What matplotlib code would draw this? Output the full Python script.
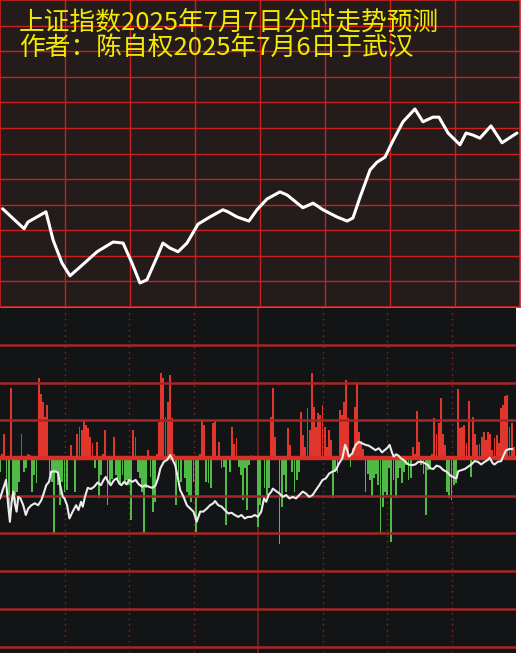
import matplotlib
matplotlib.use("Agg")
import matplotlib.pyplot as plt

plt.rcParams['font.family'] = ['Noto Sans CJK SC', 'DejaVu Sans']

# ---------------- data ----------------
title_line1 = "上证指数2025年7月7日分时走势预测"
title_line2 = "作者：陈自权2025年7月6日于武汉"

# forecast index curve (minute of session, index level)
price_minutes = [1.2, 11.1, 12.9, 21.2, 24.5, 28.6, 32.3, 36.9, 44.8, 52.2, 56.8, 60.9,
                 64.6, 67.8, 72.5, 75.2, 78.5, 82.2, 86.3, 91.4, 96.9, 102.9, 105.2,
                 109.4, 114.9, 118.6, 123.2, 129.2, 132.5, 139.8, 144.5, 149.1, 155.5,
                 160.2, 162.9, 166.2, 170.8, 174.0, 177.7, 180.9, 186.0, 191.5, 195.2,
                 199.8, 202.6, 206.8, 212.3, 215.1, 218.3, 221.5, 226.6, 231.7, 238.6]
price_values = [3459.2, 3455.3, 3456.6, 3458.6, 3453.1, 3448.6, 3446.1, 3447.8, 3450.8,
                3452.7, 3452.5, 3448.6, 3444.7, 3445.3, 3449.8, 3452.5, 3451.5, 3450.8,
                3452.5, 3456.2, 3457.6, 3459.0, 3458.6, 3457.6, 3456.8, 3459.0, 3461.1,
                3462.5, 3461.9, 3459.4, 3460.3, 3459.0, 3457.6, 3456.8, 3457.4, 3461.5,
                3466.8, 3468.3, 3469.3, 3472.1, 3476.2, 3478.7, 3476.2, 3477.1, 3477.1,
                3474.0, 3471.7, 3474.0, 3473.6, 3473.0, 3475.4, 3472.1, 3474.0]

# per-minute flow bars (one value per minute, 240 minutes)
flow_values = [
    -0.36, 0.10, 0.65, -0.80, -1.42, 1.87, -1.07, -1.25, -0.90, -0.63,
    0.65, -0.36, -0.27, 0.12, 0.08, -0.90, -0.45, -0.67, 2.13, 1.70,
    1.50, 1.10, 1.40, -0.45, -0.63, -2.00, -0.36, -0.72, -1.25, -0.63,
    -0.90, -0.85, 0.05, 0.35, 0.05, -0.90, 0.65, 0.83, 0.74, 1.00,
    0.88, 0.79, 0.57, 0.39, -0.27, 0.43, -1.07, -0.45, 0.10, 0.74,
    -1.25, -0.70, -0.55, 0.57, -0.45, -0.55, -0.72, -0.45, -0.63, -0.58,
    -0.72, -1.65, 0.74, 0.57, -0.36, -0.54, -0.90, -2.00, -0.80, 0.21,
    -0.50, -1.42, -1.16, 0.10, 0.96, 2.25, 2.12, 1.10, 1.50, 2.20,
    1.05, 0.10, -1.25, -0.45, -0.63, 0.05, -0.54, -0.90, -1.03, -1.16,
    -0.63, -1.96, -1.07, 0.12, 0.98, 0.88, -0.63, -0.67, -0.80, 0.92,
    0.98, 0.05, 0.43, -0.27, -0.23, -1.78, 0.05, -0.36, 0.83, 0.36,
    0.52, -0.23, -0.45, -1.11, -0.27, -1.38, -0.19, 0.08, 0.05, 0.05,
    -1.82, -1.25, 0.05, -0.80, -0.98, -0.80, 1.10, 1.87, 0.57, 0.05,
    -2.27, -1.29, -0.45, -0.90, 0.79, 0.35, -0.36, -0.90, -0.58, -0.36,
    1.23, 0.61, 0.30, 1.32, 0.74, 2.25, 1.36, 0.83, 1.19, 1.15,
    1.41, 0.83, 0.30, 0.74, 0.48, -1.05, -0.36, -0.40, 1.27, 1.14,
    1.48, 2.07, 1.05, -0.23, 0.26, 1.36, 2.03, 0.70, 0.45, 0.25,
    -0.90, -0.41, -0.58, -1.03, -0.54, -0.41, -0.72, -2.00, -1.29, -0.90,
    -0.98, -0.27, -2.22, -0.58, -1.07, -0.54, -0.27, -0.67, -0.36, -0.19,
    -0.58, -0.54, 0.30, 0.10, 1.25, 0.43, -0.19, -0.41, -1.50, -0.32,
    -0.23, 0.10, 1.05, 0.65, 0.92, 1.58, 0.65, 0.35, -0.90, -1.07,
    -1.11, -0.72, -0.67, 1.83, 0.79, 0.83, 0.88, 0.39, 1.51, -0.50,
    1.10, 0.65, 0.35, 0.36, 0.57, 0.70, 0.48, 0.70, 0.65, 0.21,
    0.52, 0.61, 0.39, 1.32, 1.41, 1.64, 1.67, 0.83, 0.92, 0.30,
]
flow_minutes = list(range(len(flow_values)))

# cumulative strength line in the lower panel
strength_minutes = [0, 1.5, 2.8, 3.8, 4.6, 5.4, 6.2, 6.9, 7.7, 8.5, 9.5, 10.8, 12, 13.1,
                    14.6, 16.2, 17.7, 19.2, 20.3, 21.5, 22.8, 23.8, 25.4, 26.9, 28, 29.2,
                    30, 31.2, 32.3, 33.8, 35.4, 36.5, 37.7, 38.5, 39.5, 40.8, 42.3, 43.8,
                    45.4, 46.9, 48.2, 49.2, 50.3, 51.5, 53.1, 54.3, 55.4, 56.5, 57.7, 58.9,
                    60, 61.5, 63.1, 64.6, 66.2, 67.7, 69.2, 70.8, 72.3, 73.5, 74.6, 76.2,
                    77.7, 79.2, 80.3, 81.5, 82.8, 83.8, 85.4, 86.9, 88.5, 90, 91.5, 93.1,
                    94.6, 96.2, 97.7, 99.2, 100, 101.5, 103.1, 104.6, 106.2, 107.7, 109.2,
                    110.8, 112.3, 113.8, 115.4, 116.9, 118.5, 120, 121.5, 122.8, 123.8,
                    124.9, 126.2, 126.9, 128.5, 130, 131.5, 133.1, 134.6, 136.2, 137.7,
                    139.2, 140.8, 142.3, 143.8, 145.4, 146.9, 148.5, 150, 151.5, 153.1,
                    154.6, 156.2, 157.7, 159.2, 160.5, 161.5, 162.3, 163.8, 165.4, 166.9,
                    168.5, 170, 171.5, 173.1, 174.6, 176.2, 177.7, 178.9, 180, 181.2,
                    182.3, 183.1, 184.3, 185.4, 186.5, 187.7, 188.9, 190, 191.5, 193.1,
                    194.6, 196.2, 197.7, 199.2, 200, 201.5, 203.1, 204.6, 206.2, 207.7,
                    209.2, 210.5, 212.3, 213.1, 214.6, 216.2, 217.7, 219.2, 220.8, 222.3,
                    223.8, 225.4, 226.9, 227.7, 229.2, 230, 231.5, 233.1, 234.3, 235.4,
                    236.9, 238.2]
strength_values = [-1.07, -0.81, -0.58, -1.25, -1.69, -1.16, -0.89, -1.20, -1.42, -1.03,
                   -1.07, -1.25, -1.51, -1.34, -1.25, -1.20, -1.25, -1.12, -0.94, -0.72,
                   -0.63, -0.36, -0.35, -0.38, -0.72, -1.03, -1.07, -1.25, -1.60, -1.42,
                   -1.25, -1.38, -1.16, -1.29, -1.03, -0.79, -0.82, -0.76, -0.65, -0.72,
                   -0.58, -0.50, -0.63, -0.72, -0.58, -0.54, -0.67, -0.72, -0.63, -0.70,
                   -0.58, -0.63, -0.58, -0.70, -0.76, -0.72, -0.76, -0.79, -0.73, -0.54,
                   -0.27, -0.10, -0.05, 0.08, -0.05, -0.19, -0.54, -0.85, -1.03, -1.25,
                   -1.34, -1.42, -1.69, -1.42, -1.42, -1.34, -1.25, -1.20, -1.14, -1.25,
                   -1.29, -1.38, -1.47, -1.45, -1.51, -1.56, -1.51, -1.60, -1.56, -1.56,
                   -1.51, -1.56, -1.42, -1.07, -1.16, -0.98, -0.89, -0.81, -0.88, -0.94,
                   -1.03, -0.98, -1.07, -1.03, -1.07, -0.98, -0.89, -0.94, -1.03, -0.98,
                   -0.85, -0.72, -0.58, -0.54, -0.41, -0.36, -0.32, -0.14, -0.01, 0.35,
                   0.21, 0.04, 0.12, 0.35, 0.43, 0.39, 0.35, 0.33, 0.27, 0.21, 0.26,
                   0.15, 0.21, 0.26, 0.35, 0.15, 0.04, 0.10, 0.06, -0.01, -0.05, -0.12,
                   -0.17, -0.19, -0.17, -0.10, -0.10, -0.14, -0.19, -0.27, -0.29, -0.20,
                   -0.23, -0.32, -0.36, -0.45, -0.50, -0.54, -0.35, -0.32, -0.29, -0.23,
                   -0.17, -0.08, -0.10, -0.17, -0.10, -0.05, 0.01, -0.14, -0.17, -0.10,
                   -0.08, 0.08, 0.21, 0.24, 0.24]

# ---------------- figure ----------------
W, H = 521, 653
fig = plt.figure(figsize=(W / 100, H / 100), dpi=100, facecolor='white')

# upper panel
ax1 = fig.add_axes([0, 346 / H, 520 / W, 307 / H])
ax1.set_facecolor('#231c1a')
ax1.set_xlim(0, 240)
ax1.set_ylim(3440, 3500)
grid_red = '#cc2020'
for xv in range(30, 240, 30):
    ax1.axvline(xv, color=grid_red, lw=1.0, zorder=1)
for yv in range(3445, 3500, 5):
    ax1.axhline(yv, color=grid_red, lw=1.0, zorder=1)
ax1.plot(price_minutes, price_values, color='white', lw=2.2,
         solid_joinstyle='round', solid_capstyle='round', zorder=3)
for s in ax1.spines.values():
    s.set_color(grid_red)
    s.set_linewidth(1.2)
ax1.set_xticks([])
ax1.set_yticks([])

# lower panel
ax2 = fig.add_axes([0, 0, 516 / W, 345 / H])
ax2.set_facecolor('#131416')
ax2.set_xlim(0, 240)
ax2.set_ylim(-5.17, 3.98)
bar_colors = ['#e0362e' if v >= 0 else '#4fba45' for v in flow_values]
ax2.bar(flow_minutes, flow_values, width=0.85, color=bar_colors, linewidth=0, zorder=2)
for yv in [3, 2, 1, -1, -2, -3, -4, -5]:
    ax2.axhline(yv, color='#a82626', lw=1.8, zorder=3)
ax2.axhline(0, color='#d83028', lw=3.2, zorder=3)
for xv in [30, 60, 90, 150, 180, 210]:
    ax2.axvline(xv, color='#8c2a2a', lw=1.0, linestyle=(0, (1, 3)), zorder=1)
ax2.axvline(120, color='#7a1e1e', lw=1.2, zorder=1)
ax2.plot(strength_minutes, strength_values, color='#ececec', lw=1.5, zorder=4)
for s in ax2.spines.values():
    s.set_visible(False)
ax2.set_xticks([])
ax2.set_yticks([])

# titles
ytxt = '#f2ea00'
fig.text(19 / W, 1 - 22.5 / H, title_line1, color=ytxt, fontsize=18.5, va='center', ha='left')
fig.text(19 / W, 1 - 48 / H, title_line2, color=ytxt, fontsize=18.5, va='center', ha='left')

fig.savefig('out.png', dpi=100, facecolor=fig.get_facecolor())
